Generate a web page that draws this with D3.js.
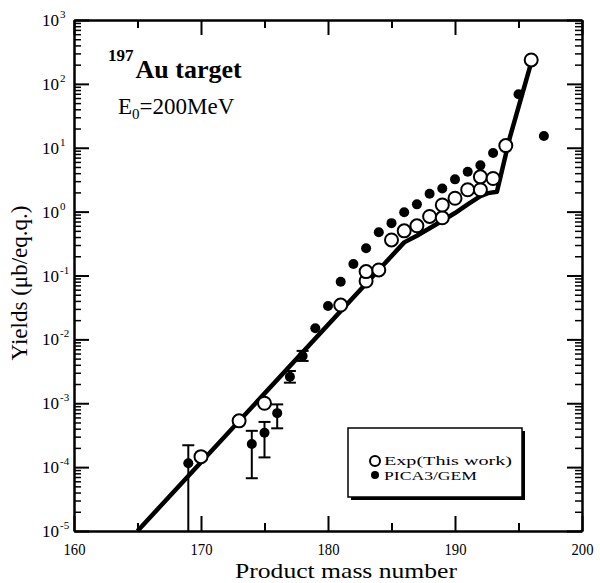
<!DOCTYPE html>
<html><head><meta charset="utf-8">
<script src="https://cdn.jsdelivr.net/npm/d3@7"></script>
<style>body{margin:0;background:#fff}svg text{font-family:"Liberation Serif","Times New Roman",serif;fill:#000}</style>
</head><body><svg id="c" width="600" height="583"></svg>
<script>
// ---- data ----
const expMass  = [170, 173, 175, 181, 183, 183, 184, 185, 186, 187, 188, 189, 189, 190, 191, 192, 192, 193, 194, 196];
const expYield = [1.46e-4, 5.3e-4, 1.0e-3, 0.0345, 0.082, 0.115, 0.122, 0.36, 0.5, 0.6, 0.84, 0.8, 1.27, 1.62, 2.2, 2.2, 3.5, 3.3, 10.8, 237];

const picaMass  = [169, 174, 175, 176, 177, 178, 179, 180, 181, 182, 183, 184, 185, 186, 187, 188, 189, 190, 191, 192, 193, 195, 197];
const picaYield = [1.15e-4, 2.3e-4, 3.46e-4, 7.0e-4, 2.6e-3, 5.5e-3, 0.0149, 0.0333, 0.080, 0.151, 0.267, 0.474, 0.66, 0.98, 1.3, 1.9, 2.3, 3.2, 4.2, 5.3, 8.3, 68.6, 15.3];
const picaErrLow  = [1e-5, 6.7e-5, 1.42e-4, 4.05e-4, 2.1e-3, 4.6e-3];
const picaErrHigh = [2.2e-4, 3.7e-4, 5.1e-4, 9.6e-4, 3.2e-3, 6.6e-3];

const fitMass  = [165, 186, 187, 188, 189, 190, 191, 192, 192.6, 193.3, 194.3, 196];
const fitYield = [1e-5, 0.33, 0.42, 0.55, 0.72, 0.95, 1.3, 1.75, 1.95, 2.05, 14, 215];

const xMajorTicks = [160, 170, 180, 190, 200];
const xMinorTicks = [165, 175, 185, 195];
const yExponents  = [-5, -4, -3, -2, -1, 0, 1, 2, 3];
const yMinorMult  = [2, 3, 4, 5, 6, 7, 8, 9];

// ---- layout ----
const L = 74, R = 582, T = 20, B = 531;
const svg = d3.select("#c");
const x = d3.scaleLinear().domain([160, 200]).range([L, R]);
const y = d3.scaleLog().domain([1e-5, 1e3]).range([B, T]);

const yMajor = yExponents.map(e => Math.pow(10, e));
const yMinor = [];
yExponents.slice(0, -1).forEach(e => yMinorMult.forEach(m => yMinor.push(m * Math.pow(10, e))));

function styleAxis(g) {
  g.select(".domain").attr("stroke", "#000").attr("stroke-width", 2);
  g.selectAll(".tick line").attr("stroke", "#000").attr("stroke-width", 2);
}
// bottom
svg.append("g").attr("transform", `translate(0,${B})`)
  .call(d3.axisBottom(x).tickValues(xMajorTicks).tickSize(-15).tickSizeOuter(0).tickFormat(d3.format("d")))
  .call(styleAxis)
  .call(g => g.selectAll("text").attr("font-size", 17).attr("y", 24).attr("dy", 0)
     .attr("textLength", 22).attr("lengthAdjust", "spacingAndGlyphs").attr("font-family", "Liberation Serif"));
svg.append("g").attr("transform", `translate(0,${B})`)
  .call(d3.axisBottom(x).tickValues(xMinorTicks).tickSize(-8).tickSizeOuter(0).tickFormat(""))
  .call(styleAxis);
// top
svg.append("g").attr("transform", `translate(0,${T})`)
  .call(d3.axisTop(x).tickValues(xMajorTicks).tickSize(-15).tickSizeOuter(0).tickFormat(""))
  .call(styleAxis);
svg.append("g").attr("transform", `translate(0,${T})`)
  .call(d3.axisTop(x).tickValues(xMinorTicks).tickSize(-8).tickSizeOuter(0).tickFormat(""))
  .call(styleAxis);
// left
svg.append("g").attr("transform", `translate(${L},0)`)
  .call(d3.axisLeft(y).tickValues(yMajor).tickSize(-15).tickSizeOuter(0).tickFormat(""))
  .call(styleAxis);
svg.append("g").attr("transform", `translate(${L},0)`)
  .call(d3.axisLeft(y).tickValues(yMinor).tickSize(-7).tickSizeOuter(0).tickFormat(""))
  .call(styleAxis).call(g => g.selectAll(".tick line").attr("stroke-width", 1.5));
// right
svg.append("g").attr("transform", `translate(${R},0)`)
  .call(d3.axisRight(y).tickValues(yMajor).tickSize(-15).tickSizeOuter(0).tickFormat(""))
  .call(styleAxis);
svg.append("g").attr("transform", `translate(${R},0)`)
  .call(d3.axisRight(y).tickValues(yMinor).tickSize(-7).tickSizeOuter(0).tickFormat(""))
  .call(styleAxis).call(g => g.selectAll(".tick line").attr("stroke-width", 1.5));

// y tick labels with superscripts
const yl = svg.append("g").selectAll("text").data(yExponents).join("text")
  .attr("x", 42).attr("y", e => y(Math.pow(10, e)) + 6).attr("font-size", 17);
yl.append("tspan").text("10");
yl.append("tspan").attr("font-size", 11).attr("dy", -8).attr("dx", 1).text(e => String(e));

// axis titles
svg.append("text").attr("x", 346).attr("y", 578).attr("text-anchor", "middle")
  .attr("font-size", 21).attr("textLength", 222).attr("lengthAdjust", "spacingAndGlyphs")
  .text("Product mass number");
svg.append("text").attr("transform", "translate(27,283) rotate(-90)").attr("text-anchor", "middle")
  .attr("font-size", 23).text("Yields (μb/eq.q.)");

// annotations
const t1 = svg.append("text").attr("x", 108).attr("y", 78).attr("font-weight", "bold");
t1.append("tspan").attr("font-size", 17).attr("dy", -17).text("197");
t1.append("tspan").attr("font-size", 26).attr("dy", 17).attr("dx", 2).text("Au target");
const t2 = svg.append("text").attr("x", 118).attr("y", 114).attr("font-size", 23);
t2.append("tspan").text("E");
t2.append("tspan").attr("font-size", 15).attr("dy", 5).text("0");
t2.append("tspan").attr("dy", -5).text("=200MeV");

// fit line
const line = d3.line().x(d => x(d[0])).y(d => y(d[1]));
svg.append("path").datum(fitMass.map((m, i) => [m, fitYield[i]]))
  .attr("d", line).attr("fill", "none").attr("stroke", "#000").attr("stroke-width", 4.5)
  .attr("stroke-linejoin", "round");

// error bars
const eg = svg.append("g").attr("stroke", "#000").attr("stroke-width", 2);
picaErrLow.forEach((lo, i) => {
  const cx = x(picaMass[i]);
  eg.append("line").attr("x1", cx).attr("x2", cx).attr("y1", y(lo)).attr("y2", y(picaErrHigh[i]));
  eg.append("line").attr("x1", cx - 6).attr("x2", cx + 6).attr("y1", y(picaErrHigh[i])).attr("y2", y(picaErrHigh[i]));
  if (lo > 1e-5) eg.append("line").attr("x1", cx - 6).attr("x2", cx + 6).attr("y1", y(lo)).attr("y2", y(lo));
});

// PICA3/GEM filled points
svg.append("g").selectAll("circle").data(picaMass).join("circle")
  .attr("cx", d => x(d)).attr("cy", (d, i) => y(picaYield[i])).attr("r", 5).attr("fill", "#000");

// Exp open circles
svg.append("g").selectAll("circle").data(expMass).join("circle")
  .attr("cx", d => x(d)).attr("cy", (d, i) => y(expYield[i])).attr("r", 6.5)
  .attr("fill", "#fff").attr("stroke", "#000").attr("stroke-width", 2);

// legend
const lg = svg.append("g");
lg.append("rect").attr("x", 351).attr("y", 431).attr("width", 174).attr("height", 69).attr("fill", "#000");
lg.append("rect").attr("x", 348).attr("y", 428).attr("width", 174).attr("height", 69)
  .attr("fill", "#fff").attr("stroke", "#000").attr("stroke-width", 1.5);
lg.append("circle").attr("cx", 375).attr("cy", 461).attr("r", 5).attr("fill", "#fff").attr("stroke", "#000").attr("stroke-width", 2);
lg.append("circle").attr("cx", 375).attr("cy", 475).attr("r", 4).attr("fill", "#000");
lg.append("text").attr("x", 384).attr("y", 465).attr("font-size", 13)
  .attr("textLength", 128).attr("lengthAdjust", "spacingAndGlyphs").text("Exp(This work)");
lg.append("text").attr("x", 384).attr("y", 480).attr("font-size", 13)
  .attr("textLength", 93).attr("lengthAdjust", "spacingAndGlyphs").text("PICA3/GEM");
</script></body></html>
